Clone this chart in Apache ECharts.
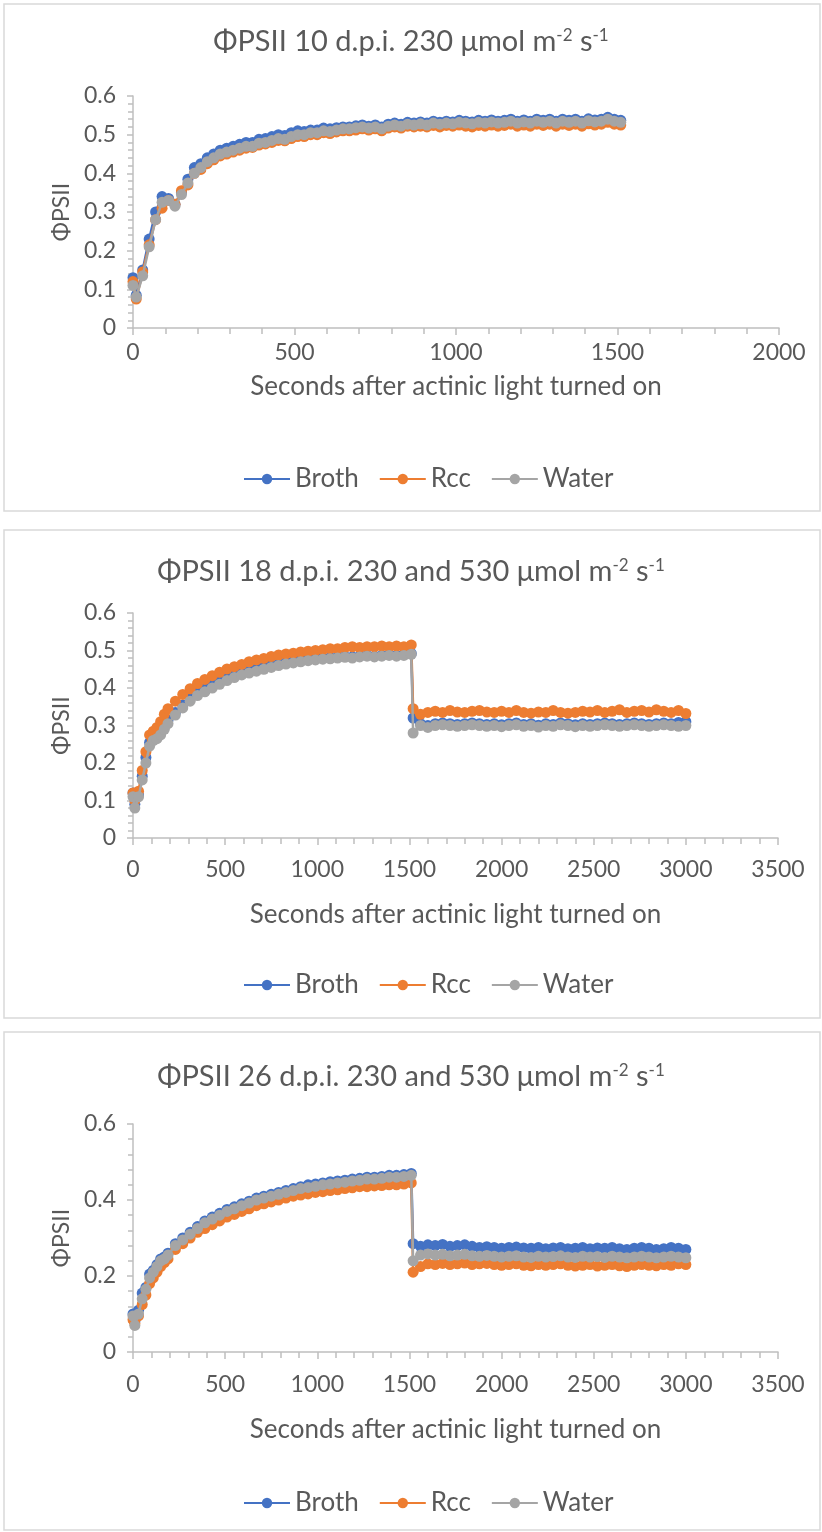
<!DOCTYPE html>
<html>
<head>
<meta charset="utf-8">
<script src="https://cdn.jsdelivr.net/npm/echarts@6/dist/echarts.min.js"></script>
<style>
html,body{margin:0;padding:0;background:#fff;}
#c{width:822px;height:1532px;}
</style>
</head>
<body>
<div id="c"></div>
<script>
// ---------- DATA ----------
const seriesNames = ['Broth', 'Rcc', 'Water'];
const colors = ['#4472C4', '#ED7D31', '#A5A5A5'];

// Panel 1: 10 d.p.i.
const t1 = [0,10,30,50,70,90,110,130,150,170,190,210,230,250,270,290,310,330,350,370,390,410,430,450,470,490,
  510,530,550,570,590,610,630,650,670,690,710,730,750,770,790,810,830,850,870,890,910,930,950,970,990,
  1010,1030,1050,1070,1090,1110,1130,1150,1170,1190,1210,1230,1250,1270,1290,1310,1330,1350,1370,1390,
  1410,1430,1450,1470,1490,1510];
const p1Broth = [0.13,0.085,0.15,0.23,0.30,0.34,0.335,0.32,0.35,0.385,0.415,0.425,0.44,0.45,0.46,0.465,0.47,0.475,0.48,0.48,
  0.488,0.49,0.495,0.5,0.498,0.505,0.51,0.508,0.512,0.512,0.517,0.515,0.518,0.52,0.52,0.523,0.525,0.522,0.525,0.52,
  0.527,0.53,0.527,0.532,0.53,0.533,0.53,0.535,0.532,0.535,0.533,0.537,0.535,0.533,0.537,0.535,0.538,0.535,0.537,0.54,
  0.535,0.538,0.535,0.54,0.537,0.54,0.535,0.54,0.537,0.54,0.535,0.541,0.538,0.54,0.545,0.54,0.537];
const p1Rcc = [0.12,0.075,0.145,0.215,0.28,0.31,0.33,0.32,0.355,0.37,0.40,0.41,0.425,0.435,0.445,0.45,0.455,0.46,0.465,0.467,
  0.473,0.476,0.48,0.485,0.484,0.49,0.495,0.495,0.5,0.5,0.505,0.503,0.507,0.51,0.51,0.512,0.515,0.512,0.515,0.51,
  0.517,0.52,0.517,0.522,0.52,0.522,0.52,0.524,0.52,0.524,0.522,0.525,0.522,0.52,0.524,0.522,0.525,0.522,0.524,0.527,
  0.522,0.525,0.522,0.527,0.524,0.527,0.522,0.527,0.524,0.527,0.522,0.528,0.525,0.527,0.532,0.527,0.525];
const p1Water = [0.11,0.08,0.135,0.21,0.28,0.325,0.33,0.315,0.345,0.375,0.40,0.415,0.43,0.44,0.45,0.455,0.46,0.465,0.47,0.47,
  0.478,0.48,0.485,0.49,0.488,0.495,0.50,0.50,0.505,0.505,0.51,0.508,0.512,0.515,0.515,0.518,0.52,0.517,0.52,0.515,
  0.522,0.525,0.522,0.527,0.525,0.528,0.525,0.53,0.527,0.53,0.528,0.532,0.53,0.528,0.532,0.53,0.533,0.53,0.532,0.535,
  0.53,0.533,0.53,0.535,0.532,0.535,0.53,0.535,0.532,0.535,0.53,0.536,0.533,0.535,0.54,0.535,0.532];

// Panels 2 and 3: 18 and 26 d.p.i. (light raised at ~1515 s)
const t23 = [0,10,30,50,70,90,110,130,150,170,190,
  230,270,310,350,390,430,470,510,550,590,630,670,710,750,790,830,870,910,950,990,1030,1070,1110,1150,1190,
  1230,1270,1310,1350,1390,1430,1470,1510,
  1520,1560,1600,1640,1680,1720,1760,1800,1840,1880,1920,1960,2000,2040,2080,2120,2160,2200,2240,2280,2320,
  2360,2400,2440,2480,2520,2560,2600,2640,2680,2720,2760,2800,2840,2880,2920,2960,3000];

const p2Broth = [0.12,0.09,0.115,0.165,0.215,0.255,0.265,0.27,0.28,0.30,0.315,
  0.335,0.355,0.372,0.387,0.398,0.408,0.418,0.427,0.434,0.441,0.447,0.452,0.457,0.461,0.465,0.468,0.471,0.474,0.476,0.478,
  0.48,0.481,0.482,0.484,0.483,0.485,0.487,0.485,0.487,0.489,0.487,0.49,0.492,
  0.32,0.305,0.30,0.305,0.307,0.305,0.303,0.305,0.307,0.305,0.303,0.305,0.302,0.305,0.307,0.303,0.305,0.301,0.305,
  0.303,0.307,0.305,0.302,0.305,0.303,0.305,0.307,0.305,0.303,0.305,0.307,0.305,0.303,0.305,0.307,0.305,0.308,0.31];
const p2Rcc = [0.12,0.10,0.125,0.18,0.23,0.275,0.285,0.295,0.31,0.33,0.345,
  0.365,0.383,0.398,0.412,0.423,0.433,0.442,0.451,0.457,0.463,0.47,0.475,0.479,0.484,0.488,0.491,0.493,0.496,0.498,0.50,
  0.502,0.505,0.505,0.508,0.51,0.508,0.51,0.51,0.512,0.51,0.512,0.51,0.515,
  0.345,0.33,0.335,0.338,0.335,0.34,0.336,0.335,0.338,0.34,0.336,0.335,0.338,0.335,0.34,0.335,0.333,0.336,0.335,
  0.34,0.335,0.333,0.335,0.338,0.336,0.34,0.335,0.338,0.342,0.335,0.338,0.34,0.336,0.342,0.338,0.335,0.34,0.332];
const p2Water = [0.11,0.08,0.11,0.155,0.20,0.245,0.26,0.265,0.275,0.29,0.305,
  0.328,0.347,0.365,0.38,0.39,0.40,0.41,0.42,0.428,0.435,0.44,0.445,0.45,0.455,0.46,0.464,0.467,0.47,0.473,0.475,
  0.477,0.478,0.48,0.482,0.48,0.483,0.485,0.483,0.485,0.487,0.485,0.487,0.49,
  0.28,0.30,0.295,0.30,0.302,0.30,0.298,0.30,0.302,0.30,0.298,0.30,0.297,0.30,0.302,0.298,0.30,0.296,0.30,
  0.298,0.302,0.30,0.297,0.30,0.298,0.30,0.302,0.30,0.298,0.30,0.302,0.30,0.298,0.30,0.302,0.30,0.298,0.30];

const p3Broth = [0.10,0.08,0.11,0.155,0.17,0.205,0.215,0.23,0.245,0.25,0.26,
  0.285,0.30,0.315,0.33,0.345,0.355,0.365,0.375,0.382,0.39,0.397,0.405,0.41,0.415,0.42,0.425,0.43,0.435,0.44,0.442,
  0.445,0.448,0.45,0.452,0.455,0.457,0.46,0.46,0.462,0.465,0.465,0.467,0.47,
  0.285,0.278,0.282,0.28,0.283,0.278,0.28,0.282,0.278,0.275,0.277,0.275,0.273,0.275,0.276,0.274,0.273,0.275,0.272,
  0.274,0.275,0.272,0.273,0.275,0.272,0.274,0.273,0.275,0.272,0.27,0.273,0.275,0.273,0.27,0.272,0.275,0.273,0.27];
const p3Rcc = [0.085,0.075,0.095,0.125,0.15,0.18,0.195,0.21,0.225,0.235,0.245,
  0.27,0.285,0.30,0.315,0.325,0.335,0.345,0.355,0.362,0.37,0.377,0.385,0.39,0.395,0.40,0.405,0.41,0.413,0.416,0.42,
  0.422,0.425,0.427,0.43,0.432,0.435,0.435,0.437,0.438,0.44,0.44,0.442,0.445,
  0.21,0.225,0.232,0.23,0.233,0.23,0.232,0.234,0.23,0.232,0.233,0.23,0.228,0.23,0.232,0.228,0.227,0.23,0.228,
  0.23,0.232,0.228,0.226,0.228,0.23,0.226,0.228,0.23,0.227,0.225,0.228,0.23,0.228,0.227,0.23,0.228,0.232,0.23];
const p3Water = [0.095,0.07,0.10,0.14,0.165,0.195,0.21,0.225,0.24,0.245,0.255,
  0.28,0.295,0.31,0.325,0.34,0.35,0.36,0.37,0.377,0.385,0.392,0.40,0.405,0.41,0.415,0.42,0.425,0.43,0.433,0.436,
  0.44,0.442,0.445,0.447,0.45,0.452,0.455,0.455,0.457,0.46,0.46,0.462,0.465,
  0.24,0.255,0.258,0.255,0.257,0.253,0.255,0.257,0.253,0.252,0.254,0.252,0.25,0.252,0.253,0.25,0.249,0.252,0.25,
  0.251,0.253,0.25,0.249,0.252,0.25,0.251,0.249,0.252,0.25,0.248,0.25,0.252,0.25,0.248,0.25,0.252,0.25,0.248];

const titles = [
  'ΦPSII 10 d.p.i. 230 μmol m{sup|-2} s{sup|-1}',
  'ΦPSII 18 d.p.i. 230 and 530 μmol m{sup|-2} s{sup|-1}',
  'ΦPSII 26 d.p.i. 230 and 530 μmol m{sup|-2} s{sup|-1}'
];
const xMaxes = [2000, 3500, 3500];
const yIntervals = [0.1, 0.1, 0.2];
const xAxisName = 'Seconds after actinic light turned on';
const yAxisName = 'ΦPSII';

// ---------- LAYOUT ----------
const FONT = 'Lato, "Open Sans", sans-serif';
const TXT = '#595959';
const AX = '#bfbfbf';
const panels = [
  {box:[4,4,816,507], grid:{left:133, top:96, width:646, height:232}, titleTop:22, labelMargin:13, nameGap:46, legendTop:461},
  {box:[4,530,816,488], grid:{left:133, top:613, width:645, height:225}, titleTop:552, labelMargin:20, nameGap:64, legendTop:967},
  {box:[4,1032,816,498], grid:{left:133, top:1124, width:645, height:228}, titleTop:1057, labelMargin:21, nameGap:65, legendTop:1485}
];
const panelData = [
  {t:t1, vals:[p1Broth, p1Rcc, p1Water]},
  {t:t23, vals:[p2Broth, p2Rcc, p2Water]},
  {t:t23, vals:[p3Broth, p3Rcc, p3Water]}
];

const option = {
  animation:false,
  backgroundColor:'#fff',
  textStyle:{fontFamily:FONT},
  title:[], legend:[], grid:[], xAxis:[], yAxis:[], series:[],
  graphic:[]
};

panels.forEach((p, i) => {
  option.graphic.push({type:'rect', shape:{x:p.box[0], y:p.box[1], width:p.box[2], height:p.box[3]},
    style:{fill:'none', stroke:'#d9d9d9', lineWidth:1.5}, silent:true, z:-1});
  option.title.push({
    text: titles[i], left:'center', top:p.titleTop,
    textStyle:{fontFamily:FONT, fontSize:29, fontWeight:'normal', color:TXT,
      rich:{sup:{fontFamily:FONT, fontSize:17, color:TXT, verticalAlign:'top'}}}
  });
  option.legend.push({
    top:p.legendTop, left:238, itemWidth:46, itemHeight:13, itemGap:20,
    data:seriesNames, selectedMode:false,
    textStyle:{fontFamily:FONT, fontSize:26, color:TXT}
  });
  option.grid.push(p.grid);
  option.xAxis.push({
    type:'value', gridIndex:i, min:0, max:xMaxes[i], interval:500,
    name:xAxisName, nameLocation:'middle', nameGap:p.nameGap,
    nameTextStyle:{fontFamily:FONT, fontSize:26, color:TXT},
    axisLine:{show:true, lineStyle:{color:AX, width:1.5}},
    axisTick:{show:true, length:7, lineStyle:{color:AX, width:1.5}},
    minorTick:{show:true, splitNumber:5, length:6, lineStyle:{color:AX, width:1.5}},
    axisLabel:{margin:p.labelMargin, fontFamily:FONT, fontSize:23, color:TXT,
      formatter: v => String(v)},
    splitLine:{show:false}
  });
  option.yAxis.push({
    type:'value', gridIndex:i, min:0, max:0.6, interval:yIntervals[i],
    name:yAxisName, nameLocation:'middle', nameGap:56, nameRotate:90,
    nameTextStyle:{fontFamily:FONT, fontSize:23, color:TXT},
    axisLine:{show:true, lineStyle:{color:AX, width:1.5}},
    axisTick:{show:true, length:6, lineStyle:{color:AX, width:1.5}},
    minorTick:{show:true, splitNumber:5, length:5, lineStyle:{color:AX, width:1.5}},
    axisLabel:{margin:17, fontFamily:FONT, fontSize:23, color:TXT},
    splitLine:{show:false}
  });
  seriesNames.forEach((name, k) => {
    const d = panelData[i];
    option.series.push({
      name, type:'line', xAxisIndex:i, yAxisIndex:i,
      data: d.t.map((tt, j) => [tt, d.vals[k][j]]),
      symbol:'circle', symbolSize:11, showAllSymbol:true,
      itemStyle:{color:colors[k]},
      lineStyle:{color:colors[k], width:2.5},
      z:2 + k
    });
  });
});

const chart = echarts.init(document.getElementById('c'), null, {renderer:'canvas'});
chart.setOption(option);
</script>
</body>
</html>
